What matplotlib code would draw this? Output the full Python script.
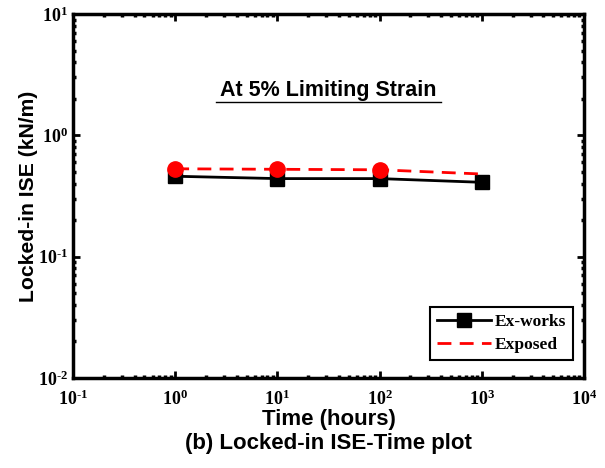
import math
import matplotlib
matplotlib.use("Agg")
from matplotlib import pyplot as plt
from matplotlib.ticker import LogLocator, FuncFormatter, NullFormatter

time_hours = [1, 10, 100, 1000]
ex_works = [0.46, 0.44, 0.44, 0.41]
exposed = [0.53, 0.525, 0.52, 0.48]
exposed_marked = 3  # circles only on the first three points

plt.rcParams['mathtext.fontset'] = 'custom'
plt.rcParams['mathtext.rm'] = 'Liberation Serif:bold'
plt.rcParams['mathtext.bf'] = 'Liberation Serif:bold'

fig = plt.figure(figsize=(6.05, 4.68), dpi=100)
ax = fig.add_axes([73 / 605, 1 - 378 / 468, 511 / 605, 364 / 468])

ax.plot(time_hours, ex_works, color='black', lw=2, marker='s', ms=10,
        label='Ex-works', zorder=3)
ax.plot(time_hours, exposed, color='red', lw=2, ls=(0, (5, 3)),
        label='Exposed', zorder=4)
ax.plot(time_hours[:exposed_marked], exposed[:exposed_marked], ls='none',
        marker='o', ms=11, color='red', zorder=5)

ax.set_xscale('log')
ax.set_yscale('log')
ax.set_xlim(0.1, 1e4)
ax.set_ylim(0.01, 10)

HYPHEN = '\u2010'


def decade(v, pos):
    e = round(math.log10(v))
    if e < 0:
        return '$\\mathbf{10^{' + HYPHEN + str(-e) + '}}$'
    return '$\\mathbf{10^{' + str(e) + '}}$'


for axis in (ax.xaxis, ax.yaxis):
    axis.set_major_locator(LogLocator(base=10, numticks=10))
    axis.set_minor_locator(LogLocator(base=10, subs=range(2, 10), numticks=10))
    axis.set_major_formatter(FuncFormatter(decade))
    axis.set_minor_formatter(NullFormatter())

ax.tick_params(which='both', direction='in', top=True, right=True,
               labelsize=13, colors='black')
ax.tick_params(which='major', length=5, width=2)
ax.tick_params(which='minor', length=2.5, width=2.5)
ax.tick_params(axis='x', pad=8)
for sp in ax.spines.values():
    sp.set_linewidth(2.5)

ax.set_xlabel('Time (hours)', family='Liberation Sans', weight='bold',
              fontsize=16, labelpad=0)
ax.set_ylabel('Locked-in ISE (kN/m)', family='Liberation Sans', weight='bold',
              fontsize=15.2, labelpad=0)
fig.text(328 / 605, 1 - 443 / 468, '(b) Locked-in ISE-Time plot',
         family='Liberation Sans', weight='bold', fontsize=16,
         ha='center', va='center')

ax.text(0.5, 0.79, 'At 5% Limiting Strain', transform=ax.transAxes,
        family='Liberation Sans', weight='bold', fontsize=15.5,
        ha='center', va='center')
ax.plot([0.28, 0.72], [0.757, 0.757], transform=ax.transAxes, color='black', lw=1)

leg = ax.legend(loc='lower right', bbox_to_anchor=(0.978, 0.05),
                borderaxespad=0,
                prop={'family': 'Liberation Serif', 'weight': 'bold', 'size': 12.5},
                fancybox=False, edgecolor='black', framealpha=1,
                handlelength=3.1, borderpad=0.4, labelspacing=0.4,
                handletextpad=0.2)
leg.get_frame().set_linewidth(1.5)

fig.savefig('out.png', dpi=100)
